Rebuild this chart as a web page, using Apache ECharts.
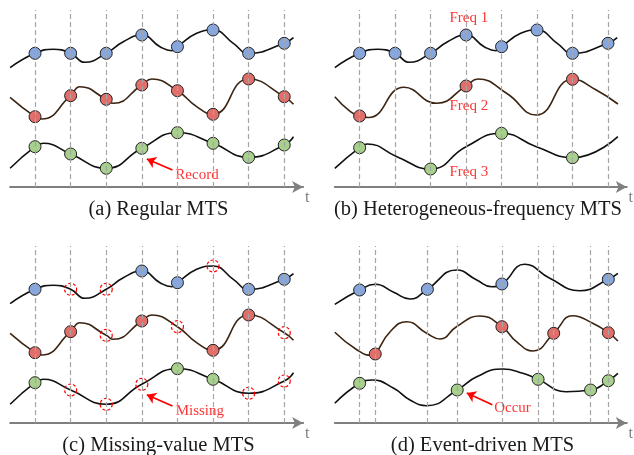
<!DOCTYPE html>
<html>
<head>
<meta charset="utf-8">
<script src="https://cdn.jsdelivr.net/npm/echarts@6/dist/echarts.min.js"></script>
<style>
html, body { margin: 0; padding: 0; background: #fff; }
#main { width: 634px; height: 455px; }
</style>
</head>
<body>
<div id="main"></div>
<script>
// sampling instants (the dashed lines)
const regularTimes = [1, 2, 3, 4, 5, 6, 7, 8];
const eventTimes = [1, 1.44, 2.91, 3.75, 5.01, 6.03, 6.47, 7.51, 8.01];

// underlying signals as [t, value]
const blueWave = [[0.3, 119.3], [1, 133.7], [1.51, 137.7], [2, 133.7], [2.4, 124.7], [3, 133.7], [3.48, 145.3], [4, 152], [4.51, 140.3], [4.84, 136.3], [5, 140.3], [5.54, 153.7], [6, 157], [6.57, 143.7], [7, 133.7], [8, 143.7], [8.26, 149.3]];
const redWave = [[0.3, 89.7], [1, 70.3], [1.19, 68], [2, 91.3], [2.26, 100.3], [3, 87.7], [3.2, 83.7], [4, 102], [4.28, 108], [5, 96.3], [5.54, 80.3], [6, 72.7], [7, 108], [8, 90.3], [8.26, 82.7]];
const greenWave = [[0.3, 18.7], [1, 40.3], [1.23, 43.7], [2, 33], [3, 18.7], [4, 38.7], [5, 54.3], [6, 43.7], [7, 29.7], [8, 42], [8.26, 50.3]];

const redWaveFreq = [[0.3, 90.3], [0.74, 75.3], [1, 71], [1.25, 69.5], [2.25, 99.7], [3.17, 83.7], [4, 101], [4.34, 108], [5.14, 93.7], [5.98, 72], [7, 107.7], [7.67, 97], [8.28, 83]];
const greenWaveFreq = [[0.3, 18.7], [1, 39.3], [1.22, 43], [2.05, 30.3], [3, 18], [4, 40.3], [5, 53.7], [5.98, 40.3], [7, 29.3], [8.28, 50.3]];

const blueWaveEvent = [[0.3, 118.7], [1, 133], [1.44, 138.7], [1.96, 130.7], [2.42, 124], [2.91, 133.7], [3.73, 153], [4.3, 143], [4.72, 136.3], [5.01, 139], [5.65, 158.7], [6.36, 144.7], [7.2, 132.3], [8.01, 143.7], [8.28, 149.7]];
const redWaveEvent = [[0.3, 90.7], [0.93, 73], [1.35, 67.7], [1.44, 69], [1.86, 91.3], [2.33, 101.3], [2.89, 89.7], [3.27, 84], [3.73, 96.3], [4.39, 107], [5.01, 96.3], [5.42, 81.3], [5.89, 72], [6.47, 89.7], [7.01, 107.3], [7.57, 99.7], [8.01, 90.3], [8.28, 82]];
const greenWaveEvent = [[0.3, 19.7], [1, 39.7], [1.35, 43], [1.96, 34.7], [2.42, 23], [2.89, 17.3], [3.75, 33], [4.3, 46.3], [5.04, 54], [5.6, 49.7], [6.03, 43.7], [6.82, 31.3], [7.51, 33], [8.01, 42.3], [8.28, 49.7]];

// which samples are observed in the missing-value case
const blueObserved = [1, 0, 0, 1, 1, 0, 1, 1];
const redObserved = [1, 1, 0, 1, 0, 1, 1, 0];
const greenObserved = [1, 0, 0, 0, 1, 1, 0, 0];

// sample times for the other cases
const redFreqTimes = [1, 4, 7];
const greenFreqTimes = [1, 3, 5, 7];
const blueEventTimes = [1, 2.91, 5.01, 8.01];
const redEventTimes = [1.44, 5.01, 6.47, 8.01];
const greenEventTimes = [1, 3.75, 6.03, 7.51, 8.01];

const captions = ['(a) Regular MTS', '(b) Heterogeneous-frequency MTS', '(c) Missing-value MTS', '(d) Event-driven MTS'];

// annotation texts, [t, value] anchor and optional arrow
const notes = [
    { panel: 0, text: 'Record', at: [5.55, 12], from: [4.86, 17], to: [4.14, 28] },
    { panel: 1, text: 'Freq 1', at: [4.08, 168.7] },
    { panel: 1, text: 'Freq 2', at: [4.08, 81] },
    { panel: 1, text: 'Freq 3', at: [4.08, 15.3] },
    { panel: 2, text: 'Missing', at: [5.63, 12.3], from: [4.86, 17], to: [4.14, 28.3] },
    { panel: 3, text: 'Occur', at: [5.31, 15], from: [4.74, 18.3], to: [4.02, 30] }
];

const serif = '"Liberation Serif", "Times New Roman", serif';
const fills = ['#87a6dc', '#e26e69', '#a8d08d'];
const strokes = ['#111111', '#3b2412', '#111111'];

function pick(wave, times) {
    return wave.filter(p => times.includes(p[0]));
}

function masked(wave, flags, keep) {
    return pick(wave, regularTimes.filter((t, i) => (flags[i] === 1) === keep));
}

const panels = [
    { waves: [blueWave, redWave, greenWave], times: regularTimes,
      samples: [pick(blueWave, regularTimes), pick(redWave, regularTimes), pick(greenWave, regularTimes)], missing: [] },
    { waves: [blueWave, redWaveFreq, greenWaveFreq], times: regularTimes,
      samples: [pick(blueWave, regularTimes), pick(redWaveFreq, redFreqTimes), pick(greenWaveFreq, greenFreqTimes)], missing: [] },
    { waves: [blueWave, redWave, greenWave], times: regularTimes,
      samples: [masked(blueWave, blueObserved, true), masked(redWave, redObserved, true), masked(greenWave, greenObserved, true)],
      missing: [].concat(masked(blueWave, blueObserved, false), masked(redWave, redObserved, false), masked(greenWave, greenObserved, false)) },
    { waves: [blueWaveEvent, redWaveEvent, greenWaveEvent], times: eventTimes,
      samples: [pick(blueWaveEvent, blueEventTimes), pick(redWaveEvent, redEventTimes), pick(greenWaveEvent, greenEventTimes)], missing: [] }
];

const grids = [], xAxes = [], yAxes = [], series = [], titles = [];
const lefts = [10.1, 334.8], tops = [10, 246];
const captionX = [158.5, 478, 158.5, 482.5], captionY = [199, 199, 435, 435];

panels.forEach((p, i) => {
    grids.push({ left: lefts[i % 2], top: tops[Math.floor(i / 2)], width: 293, height: 177 });
    xAxes.push({
        gridIndex: i, type: 'value', min: 0.3, max: 8.53,
        axisLine: { show: true, onZero: false, symbol: ['none', 'arrow'], symbolSize: [9, 11],
            lineStyle: { color: '#7f7f7f', width: 2 } },
        axisTick: { show: false }, axisLabel: { show: false }, splitLine: { show: false },
        name: 't', nameLocation: 'end', nameGap: 4,
        nameTextStyle: { color: '#7f7f7f', fontFamily: serif, fontSize: 16, align: 'center', verticalAlign: 'top', padding: [3, 0, 0, 0] }
    });
    yAxes.push({ gridIndex: i, type: 'value', min: 0, max: 177, show: false });
    titles.push({
        text: captions[i], left: captionX[i], top: captionY[i], textAlign: 'center', padding: 0,
        textStyle: { fontFamily: serif, fontSize: 20.5, fontWeight: 'normal', color: '#1a1a1a' }
    });

    // dashed sampling lines
    series.push({
        type: 'line', xAxisIndex: i, yAxisIndex: i, data: [], z: 1, silent: true,
        markLine: { silent: true, symbol: 'none', label: { show: false },
            lineStyle: { color: '#a6a6a6', type: [5, 3], width: 1.2 },
            data: p.times.map(t => ({ xAxis: t })) }
    });
    p.waves.forEach((w, k) => {
        series.push({
            type: 'line', xAxisIndex: i, yAxisIndex: i, data: w, smooth: 0.5, showSymbol: false, silent: true, z: 2,
            lineStyle: { color: strokes[k], width: 1.6 }
        });
    });
    p.samples.forEach((pts, k) => {
        series.push({
            type: 'scatter', xAxisIndex: i, yAxisIndex: i, data: pts, symbolSize: 12, silent: true, z: 3,
            itemStyle: { color: fills[k], borderColor: '#222', borderWidth: 1, opacity: 1 }
        });
    });
    if (p.missing.length) {
        series.push({
            type: 'scatter', xAxisIndex: i, yAxisIndex: i, data: p.missing, symbolSize: 12, silent: true, z: 3,
            itemStyle: { color: 'rgba(0,0,0,0)', borderColor: '#ff0000', borderType: [3, 2], borderWidth: 1.2, opacity: 1 }
        });
    }
});

notes.forEach(n => {
    const s = {
        type: 'scatter', xAxisIndex: n.panel, yAxisIndex: n.panel, silent: true, z: 4,
        data: [[n.at[0], n.at[1], n.text]], symbolSize: 1, itemStyle: { color: 'rgba(0,0,0,0)' },
        label: { show: true, position: 'inside', formatter: q => q.data[2],
            color: '#ff0000', fontFamily: serif, fontSize: 15, align: 'center', verticalAlign: 'middle' }
    };
    if (n.from) {
        s.markLine = { silent: true, symbol: ['none', 'arrow'], symbolSize: 9, label: { show: false },
            lineStyle: { color: '#ff0000', width: 1.8, type: 'solid' },
            data: [[{ coord: n.from }, { coord: n.to }]] };
    }
    series.push(s);
});

const chart = echarts.init(document.getElementById('main'));
chart.setOption({
    animation: false,
    backgroundColor: '#ffffff',
    title: titles,
    grid: grids,
    xAxis: xAxes,
    yAxis: yAxes,
    series: series
});
</script>
</body>
</html>
